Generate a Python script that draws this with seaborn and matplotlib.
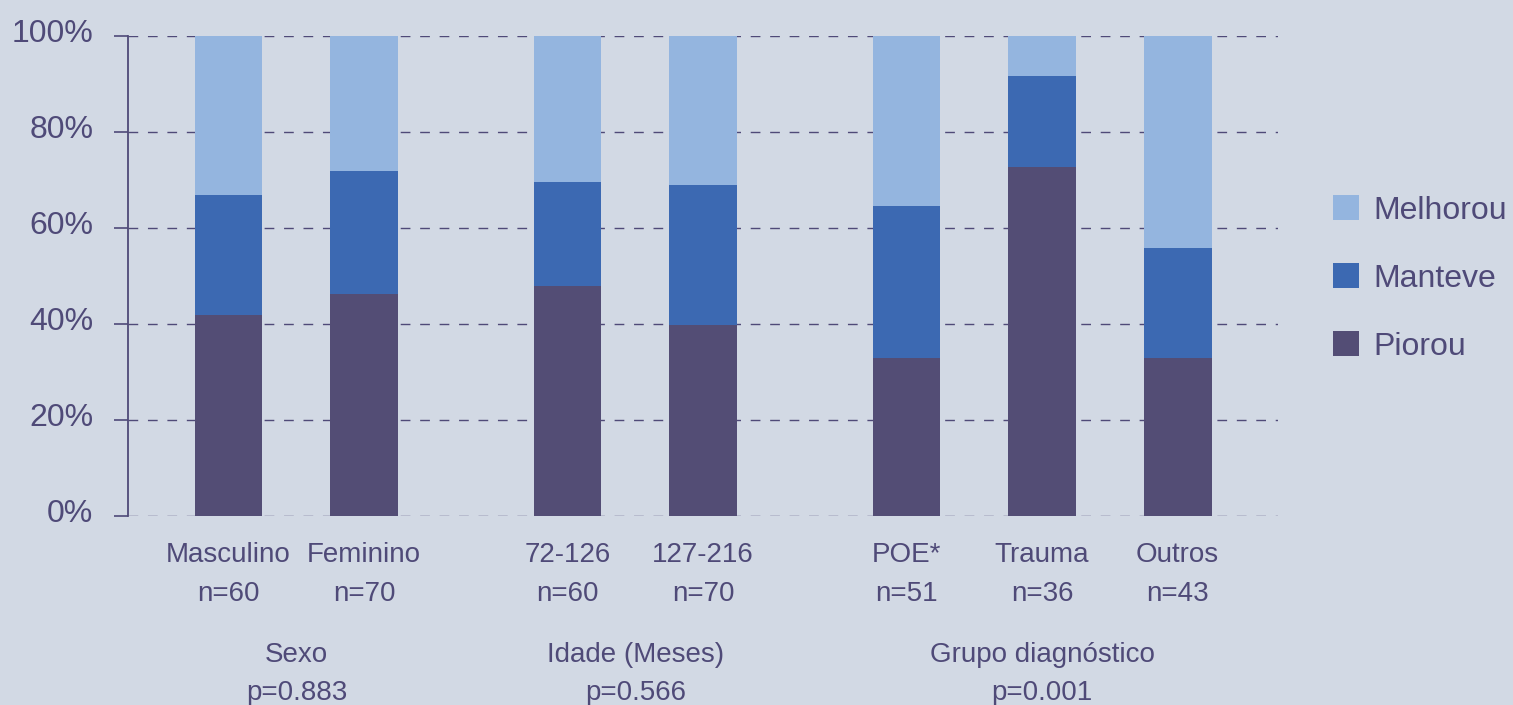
import matplotlib
matplotlib.use("Agg")
import matplotlib.pyplot as plt
from matplotlib.transforms import ScaledTranslation
import seaborn as sns
import pandas as pd
import numpy as np

# ---- data ----
categories = ["Masculino", "Feminino", "72-126", "127-216", "POE*", "Trauma", "Outros"]
n_labels = ["n=60", "n=70", "n=60", "n=70", "n=51", "n=36", "n=43"]
piorou = [41.9, 46.2, 47.8, 39.7, 32.9, 72.7, 32.9]
manteve = [25.0, 25.7, 21.8, 29.3, 31.6, 19.0, 22.8]
melhorou = [33.1, 28.1, 30.4, 31.0, 35.5, 8.3, 44.3]
groups = ["Sexo", "Idade (Meses)", "Grupo diagnóstico"]
group_p = ["p=0.883", "p=0.566", "p=0.001"]
group_members = [[0, 1], [2, 3], [4, 5, 6]]
series_names = ["Melhorou", "Manteve", "Piorou"]
yticks = [0, 20, 40, 60, 80, 100]

# ---- style ----
BG = "#D2D9E4"
TXT = "#4F4A78"
COL = {"Melhorou": "#94B5DF", "Manteve": "#3C69B2", "Piorou": "#534D75"}

sns.set_theme(style="white")
plt.rcParams["font.family"] = ["Liberation Sans", "DejaVu Sans"]
plt.rcParams["text.color"] = TXT

# positions with gaps between groups
positions = [0, 1, 2.5, 3.5, 5, 6, 7]

df = pd.DataFrame({
    "pos": positions,
    "Piorou": piorou,
    "Manteve": manteve,
    "Melhorou": melhorou,
})
df["cum_manteve"] = df["Piorou"] + df["Manteve"]
df["cum_total"] = df["cum_manteve"] + df["Melhorou"]

fig = plt.figure(figsize=(15.13, 7.05), dpi=100, facecolor=BG)
ax = fig.add_axes([128 / 1513, 1 - 515.5 / 705, (1278 - 128) / 1513, (515.5 - 36) / 705])
ax.set_facecolor("none")

for col, name in [("cum_total", "Melhorou"), ("cum_manteve", "Manteve"), ("Piorou", "Piorou")]:
    sns.barplot(data=df, x="pos", y=col, native_scale=True, width=0.5,
                color=COL[name], saturation=1, linewidth=0, errorbar=None,
                label=name, ax=ax, zorder=3)

ax.set_ylim(0, 100)
ax.set_xlim(-0.742, 7.74)
ax.set_yticks(yticks)
ax.set_yticklabels([f"{v}%" for v in yticks], fontsize=23, color=TXT)
ax.set_xticks(positions)
ax.set_xticklabels([f"{c}\n{n}" for c, n in zip(categories, n_labels)],
                   fontsize=20, color=TXT, linespacing=1.65)
ax.set_xlabel("")
ax.set_ylabel("")

ax.tick_params(axis="y", direction="out", length=10, width=1.2, color=TXT, pad=15, left=True)
ax.tick_params(axis="x", length=0, pad=19)

shift = ScaledTranslation(0, 5 / 100, fig.dpi_scale_trans)
for lab in ax.get_yticklabels():
    lab.set_transform(lab.get_transform() + shift)

for s in ["top", "right", "bottom"]:
    ax.spines[s].set_visible(False)
ax.spines["left"].set_color(TXT)
ax.spines["left"].set_linewidth(1.3)

ax.yaxis.grid(True, linestyle=(0, (7, 7)), color=TXT, linewidth=1.0)
ax.xaxis.grid(False)
ax.set_axisbelow(True)
for gl in ax.get_ygridlines():
    gl.set_zorder(1)

# group labels
for g, p, members in zip(groups, group_p, group_members):
    xc = np.mean([positions[i] for i in members])
    xf = fig.transFigure.inverted().transform(ax.transData.transform((xc, 0)))[0]
    fig.text(xf, 1 - 662 / 705, g, ha="center", va="baseline", fontsize=20, color=TXT)
    fig.text(xf, 1 - 700 / 705, p, ha="center", va="baseline", fontsize=20, color=TXT)

# legend
handles, labels = ax.get_legend_handles_labels()
leg = fig.legend(handles, labels, loc="upper left",
                 bbox_to_anchor=(1333 / 1513, 1 - 195 / 705),
                 frameon=False, fontsize=23, handlelength=0.82, handleheight=0.82,
                 handletextpad=0.44, labelspacing=1.18, borderpad=0, borderaxespad=0)
for t in leg.get_texts():
    t.set_color(TXT)
if ax.get_legend() is not None:
    ax.get_legend().remove()

fig.savefig("out.png", dpi=100, facecolor=BG)
